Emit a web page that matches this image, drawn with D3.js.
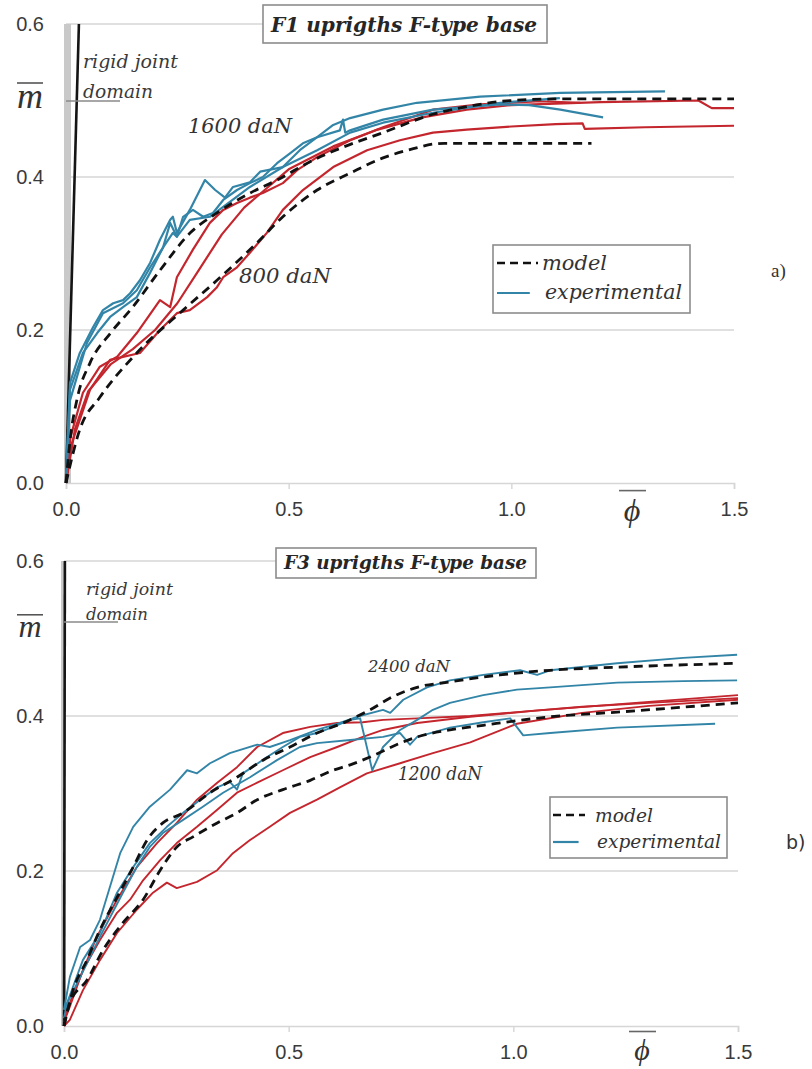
<!DOCTYPE html>
<html><head><meta charset="utf-8">
<script src="https://cdn.jsdelivr.net/npm/d3@7"></script>
<style>body{margin:0;background:#fff}svg{display:block}</style>
</head><body>
<svg id="c" width="812" height="1069"></svg>
<script>
// ---------- data ----------
const xTicks = [0.0, 0.5, 1.0, 1.5];
const yTickLabels = [0.0, 0.2, 0.4, 0.6];
const gridValues = [0.2, 0.4];

// Panel a) F1 uprights
const f1Model1600 = [[0,0],[0.01,0.06],[0.025,0.11],[0.054,0.157],[0.1,0.196],[0.15,0.23],[0.211,0.278],[0.279,0.327],[0.339,0.353],[0.413,0.379],[0.474,0.396],[0.548,0.42],[0.622,0.439],[0.712,0.458],[0.824,0.482],[0.9,0.492],[1.0,0.5],[1.1,0.502],[1.5,0.502]];
const f1Model800 = [[0,0],[0.031,0.07],[0.076,0.112],[0.159,0.17],[0.263,0.226],[0.339,0.265],[0.429,0.314],[0.487,0.348],[0.564,0.383],[0.638,0.405],[0.712,0.425],[0.78,0.437],[0.824,0.443],[0.85,0.444],[1.18,0.444]];
const f1Exp1600a = [[0,0],[0.004,0.056],[0.009,0.131],[0.031,0.17],[0.061,0.204],[0.083,0.226],[0.106,0.235],[0.128,0.239],[0.144,0.248],[0.166,0.265],[0.189,0.288],[0.211,0.318],[0.234,0.344],[0.24,0.348],[0.249,0.327],[0.278,0.357],[0.312,0.396],[0.335,0.383],[0.357,0.373],[0.375,0.387],[0.413,0.393],[0.436,0.407],[0.487,0.413],[0.525,0.435],[0.564,0.452],[0.6,0.468],[0.638,0.477],[0.712,0.488],[0.788,0.497],[0.93,0.505],[1.11,0.51],[1.345,0.512]];
const f1Exp1600b = [[0,0],[0.004,0.06],[0.009,0.122],[0.038,0.17],[0.07,0.196],[0.099,0.217],[0.128,0.23],[0.159,0.243],[0.189,0.275],[0.218,0.308],[0.24,0.327],[0.249,0.322],[0.263,0.348],[0.285,0.357],[0.308,0.348],[0.33,0.353],[0.353,0.37],[0.384,0.383],[0.413,0.392],[0.442,0.4],[0.474,0.418],[0.503,0.431],[0.532,0.444],[0.564,0.452],[0.615,0.461],[0.622,0.475],[0.627,0.458],[0.638,0.461],[0.712,0.475],[0.824,0.488],[0.975,0.495],[1.04,0.494],[1.11,0.488],[1.206,0.478]];
const f1Exp1600c = [[0,0],[0.004,0.05],[0.009,0.108],[0.047,0.183],[0.083,0.222],[0.128,0.235],[0.159,0.252],[0.189,0.282],[0.218,0.308],[0.234,0.34],[0.249,0.322],[0.278,0.344],[0.323,0.348],[0.353,0.361],[0.413,0.387],[0.487,0.413],[0.564,0.435],[0.638,0.458],[0.712,0.471],[0.824,0.484],[0.975,0.497],[1.109,0.503]];
const f1Exp800a = [[0,0],[0.01,0.06],[0.038,0.118],[0.076,0.152],[0.115,0.165],[0.159,0.196],[0.211,0.239],[0.234,0.23],[0.249,0.269],[0.285,0.305],[0.323,0.34],[0.353,0.357],[0.384,0.366],[0.413,0.373],[0.442,0.379],[0.487,0.392],[0.519,0.409],[0.564,0.426],[0.638,0.448],[0.712,0.465],[0.824,0.488],[0.93,0.495],[1.065,0.499],[1.155,0.497]];
const f1Exp800b = [[0,0],[0.012,0.05],[0.054,0.122],[0.099,0.161],[0.166,0.17],[0.211,0.2],[0.249,0.222],[0.278,0.226],[0.317,0.243],[0.339,0.256],[0.353,0.269],[0.384,0.282],[0.413,0.301],[0.451,0.327],[0.487,0.357],[0.532,0.383],[0.6,0.413],[0.676,0.435],[0.75,0.448],[0.824,0.458],[0.9,0.462],[1.0,0.466],[1.1,0.469],[1.16,0.47],[1.165,0.463],[1.3,0.465],[1.5,0.467]];
const f1Exp800c = [[0,0],[0.02,0.07],[0.05,0.12],[0.1,0.155],[0.15,0.175],[0.2,0.2],[0.25,0.235],[0.3,0.28],[0.35,0.325],[0.4,0.36],[0.45,0.385],[0.5,0.41],[0.6,0.44],[0.7,0.462],[0.8,0.478],[0.9,0.488],[1.0,0.494],[1.2,0.498],[1.42,0.5],[1.45,0.49],[1.5,0.49]];

// Panel b) F3 uprights
const f3Model2400 = [[0,0],[0.02,0.046],[0.051,0.085],[0.08,0.124],[0.118,0.166],[0.154,0.205],[0.185,0.24],[0.22,0.262],[0.265,0.275],[0.325,0.301],[0.385,0.321],[0.443,0.343],[0.503,0.36],[0.563,0.378],[0.621,0.391],[0.681,0.408],[0.732,0.425],[0.786,0.437],[0.859,0.444],[0.97,0.453],[1.082,0.459],[1.231,0.463],[1.5,0.468]];
const f3Model1200 = [[0,0],[0.013,0.03],[0.051,0.059],[0.087,0.098],[0.131,0.133],[0.176,0.163],[0.214,0.201],[0.251,0.231],[0.287,0.244],[0.341,0.262],[0.385,0.275],[0.43,0.292],[0.487,0.305],[0.548,0.317],[0.599,0.33],[0.637,0.337],[0.681,0.347],[0.748,0.365],[0.786,0.373],[0.859,0.382],[0.933,0.388],[1.082,0.399],[1.231,0.405],[1.5,0.417]];
const f3Exp2400a = [[0,0.021],[0.013,0.063],[0.036,0.102],[0.058,0.111],[0.08,0.137],[0.102,0.179],[0.125,0.223],[0.154,0.257],[0.191,0.283],[0.236,0.305],[0.274,0.33],[0.296,0.326],[0.325,0.339],[0.369,0.352],[0.43,0.363],[0.458,0.36],[0.503,0.369],[0.563,0.382],[0.614,0.391],[0.652,0.399],[0.71,0.408],[0.726,0.404],[0.755,0.421],[0.808,0.437],[0.859,0.446],[0.933,0.453],[1.015,0.459],[1.053,0.453],[1.082,0.459],[1.231,0.468],[1.378,0.475],[1.498,0.479]];
const f3Exp2400b = [[0,0.01],[0.007,0.03],[0.042,0.085],[0.08,0.12],[0.118,0.172],[0.154,0.205],[0.191,0.236],[0.229,0.257],[0.265,0.275],[0.303,0.292],[0.341,0.308],[0.369,0.315],[0.385,0.305],[0.398,0.326],[0.452,0.347],[0.487,0.36],[0.525,0.373],[0.563,0.378],[0.599,0.386],[0.637,0.395],[0.659,0.397],[0.686,0.33],[0.71,0.36],[0.748,0.382],[0.786,0.395],[0.821,0.408],[0.859,0.417],[0.933,0.427],[1.008,0.434],[1.082,0.437],[1.231,0.443],[1.378,0.445],[1.498,0.446]];
const f3Exp2400c = [[0,0.021],[0.036,0.063],[0.08,0.115],[0.131,0.172],[0.162,0.205],[0.191,0.231],[0.22,0.249],[0.265,0.266],[0.309,0.283],[0.354,0.301],[0.414,0.321],[0.474,0.343],[0.525,0.36],[0.563,0.365],[0.637,0.369],[0.71,0.373],[0.748,0.378],[0.77,0.363],[0.786,0.373],[0.859,0.385],[0.933,0.392],[0.993,0.397],[1.022,0.375],[1.082,0.378],[1.231,0.385],[1.449,0.39]];
const f3Exp1200a = [[0,0.01],[0.007,0.021],[0.036,0.063],[0.073,0.115],[0.118,0.163],[0.162,0.205],[0.207,0.236],[0.251,0.262],[0.296,0.292],[0.341,0.314],[0.385,0.334],[0.43,0.36],[0.487,0.378],[0.548,0.386],[0.608,0.391],[0.665,0.392],[0.71,0.395],[0.786,0.397],[0.904,0.4],[1.008,0.405],[1.153,0.412],[1.302,0.417],[1.5,0.423]];
const f3Exp1200b = [[0,0.005],[0.013,0.025],[0.042,0.072],[0.08,0.111],[0.118,0.146],[0.147,0.163],[0.176,0.188],[0.214,0.214],[0.251,0.236],[0.296,0.257],[0.341,0.279],[0.385,0.301],[0.43,0.314],[0.487,0.33],[0.548,0.347],[0.608,0.36],[0.665,0.373],[0.71,0.382],[0.786,0.391],[0.904,0.399],[1.05,0.407],[1.25,0.416],[1.5,0.427]];
const f3Exp1200c = [[0,0],[0.013,0.008],[0.042,0.046],[0.08,0.085],[0.118,0.12],[0.162,0.15],[0.198,0.172],[0.229,0.185],[0.251,0.178],[0.296,0.186],[0.341,0.201],[0.376,0.223],[0.414,0.24],[0.458,0.257],[0.503,0.275],[0.563,0.292],[0.614,0.308],[0.674,0.326],[0.748,0.339],[0.821,0.352],[0.904,0.366],[1.008,0.39],[1.153,0.404],[1.302,0.413],[1.5,0.421]];

// ---------- drawing ----------
const svg = d3.select("#c");
const BLUE = "#3385a8", RED = "#c4262e", GRID = "#d6d6d6";
const SERIF = "'DejaVu Serif',serif";
const MSERIF = "'Liberation Serif','Times New Roman',serif";
const SANS = "'Liberation Sans',Arial,sans-serif";

const panels = [
  { left:66, right:734, bottom:483, top:24, rigidTop:0.029,
    title:"F1 uprigths F-type base", tBox:[263,5,284,38], tBase:32, tSize:20, tLen:266,
    models:[f1Model1600, f1Model800], blues:[f1Exp1600a,f1Exp1600b,f1Exp1600c], reds:[f1Exp800a,f1Exp800b,f1Exp800c],
    labels:[{t:"1600 daN",x:188,y:133,s:21,l:104},{t:"800 daN",x:239,y:283,s:21,l:92}],
    legend:{x:493,y:245,w:197,h:68,l1:270,l2:299,dx0:497,dx1:538,tx1:542,tx2:545,len1:65,len2:137,s:21},
    tag:{t:"a)",x:771,y:277,f:MSERIF}, rigid:{x:83,y1:68,y2:98,s:18,l1:95,l2:70,mark:101}, band:[64,71], m:{y:108,s:36},
    phi:{x:632,y:521,s:32}, lw:2.2 },
  { left:64, right:738, bottom:1026, top:561, rigidTop:0.002,
    title:"F3 uprigths F-type base", tBox:[276,548,260,30], tBase:569, tSize:18, tLen:243,
    models:[f3Model2400, f3Model1200], blues:[f3Exp2400a,f3Exp2400b,f3Exp2400c], reds:[f3Exp1200a,f3Exp1200b,f3Exp1200c],
    labels:[{t:"2400 daN",x:368,y:672,s:17,l:82},{t:"1200 daN",x:398,y:780,s:18,l:84}],
    legend:{x:550,y:797,w:177,h:61,l1:822,l2:848,dx0:553,dx1:585,tx1:595,tx2:597,len1:58,len2:124,s:19},
    tag:{t:"b)",x:786,y:849,f:"'DejaVu Sans',sans-serif"}, rigid:{x:86,y1:595,y2:620,s:16,l1:87,l2:62,mark:622}, band:[61,66], m:{y:637,s:32},
    phi:{x:642,y:1060,s:30}, lw:1.9 }
];

panels.forEach(p => {
  const x = d3.scaleLinear().domain([0,1.5]).range([p.left,p.right]);
  const y = d3.scaleLinear().domain([0,0.6]).range([p.bottom,p.top]);
  const g = svg.append("g");

  // gridlines
  g.selectAll(".grid").data(gridValues).join("line")
    .attr("x1",x(0)).attr("x2",x(1.5)).attr("y1",d=>y(d)).attr("y2",d=>y(d))
    .attr("stroke",GRID).attr("stroke-width",1.6);
  g.append("line").attr("x1",x(0)).attr("x2",p.tBox[0]).attr("y1",y(0.6)).attr("y2",y(0.6))
    .attr("stroke",GRID).attr("stroke-width",1.6);

  // x axis
  const ax = g.append("g").attr("transform",`translate(0,${y(0)})`)
    .call(d3.axisBottom(x).tickValues(xTicks).tickFormat(d3.format(".1f")).tickSize(6).tickPadding(13));
  ax.select(".domain").attr("stroke",GRID).attr("stroke-width",1.6);
  ax.selectAll(".tick line").attr("stroke",GRID).attr("stroke-width",1.4);
  ax.selectAll(".tick text").attr("fill","#3a3a3a").style("font-family",SANS).style("font-size","20px");

  // y labels
  g.selectAll(".ylab").data(yTickLabels).join("text")
    .attr("x",44).attr("y",d=>y(d)).attr("dy","0.36em").attr("text-anchor","end")
    .attr("fill","#3a3a3a").style("font-family",SANS).style("font-size","20px")
    .text(d=>d3.format(".1f")(d));

  // m-bar label
  g.append("text").attr("x",30).attr("y",p.m.y).attr("text-anchor","middle")
    .style("font-family",MSERIF).style("font-style","italic").style("font-size",p.m.s+"px").attr("fill","#333").text("m");
  g.append("line").attr("x1",17).attr("x2",43).attr("y1",p.m.y-25*p.m.s/36).attr("y2",p.m.y-25*p.m.s/36)
    .attr("stroke","#555").attr("stroke-width",1.6);

  // phi-bar label
  g.append("text").attr("x",p.phi.x).attr("y",p.phi.y).attr("text-anchor","middle")
    .style("font-family",MSERIF).style("font-style","italic").style("font-size",p.phi.s+"px").attr("fill","#333").text("\u03D5");
  g.append("line").attr("x1",p.phi.x-13).attr("x2",p.phi.x+14).attr("y1",p.phi.y-p.phi.s*0.95).attr("y2",p.phi.y-p.phi.s*0.95)
    .attr("stroke","#666").attr("stroke-width",1.6);

  // rigid joint domain band + line
  g.append("rect").attr("x",p.band[0]).attr("y",y(0.6)).attr("width",p.band[1]-p.band[0]).attr("height",y(0)-y(0.6))
    .attr("fill","#c9c9c9");
  g.append("line").attr("x1",x(0)).attr("y1",y(0)).attr("x2",x(p.rigidTop)).attr("y2",y(0.6))
    .attr("stroke","#151515").attr("stroke-width",2.6);
  g.append("line").attr("x1",x(0)).attr("x2",x(0)+54).attr("y1",p.rigid.mark).attr("y2",p.rigid.mark)
    .attr("stroke","#8a8a8a").attr("stroke-width",1.4);
  [["rigid joint",p.rigid.y1,p.rigid.l1],["domain",p.rigid.y2,p.rigid.l2]].forEach(r =>
    g.append("text").attr("x",p.rigid.x).attr("y",r[1]).attr("textLength",r[2]).attr("lengthAdjust","spacingAndGlyphs")
      .style("font-family",SERIF).style("font-style","italic").style("font-size",p.rigid.s+"px").attr("fill","#3a3a3a").text(r[0]));

  // curves
  const lin = d3.line().x(d=>x(d[0])).y(d=>y(d[1]));
  const smooth = d3.line().x(d=>x(d[0])).y(d=>y(d[1])).curve(d3.curveMonotoneX);
  g.selectAll(".red").data(p.reds).join("path").attr("d",lin)
    .attr("fill","none").attr("stroke",RED).attr("stroke-width",p.lw).attr("stroke-linejoin","round");
  g.selectAll(".blue").data(p.blues).join("path").attr("d",lin)
    .attr("fill","none").attr("stroke",BLUE).attr("stroke-width",p.lw).attr("stroke-linejoin","round");
  g.selectAll(".model").data(p.models).join("path").attr("d",smooth)
    .attr("fill","none").attr("stroke","#111").attr("stroke-width",2.8).attr("stroke-dasharray","9,6");

  // load labels
  p.labels.forEach(l => g.append("text").attr("x",l.x).attr("y",l.y).attr("textLength",l.l).attr("lengthAdjust","spacingAndGlyphs")
    .style("font-family",SERIF).style("font-style","italic").style("font-size",l.s+"px").attr("fill","#333").text(l.t));

  // title box
  g.append("rect").attr("x",p.tBox[0]).attr("y",p.tBox[1]).attr("width",p.tBox[2]).attr("height",p.tBox[3])
    .attr("fill","#fff").attr("stroke","#8c8c8c").attr("stroke-width",1.6);
  g.append("text").attr("x",p.tBox[0]+8).attr("y",p.tBase).attr("textLength",p.tLen).attr("lengthAdjust","spacingAndGlyphs")
    .style("font-family",SERIF).style("font-style","italic").style("font-weight","bold").style("font-size",p.tSize+"px")
    .attr("fill","#262626").text(p.title);

  // legend
  const L = p.legend;
  g.append("rect").attr("x",L.x).attr("y",L.y).attr("width",L.w).attr("height",L.h)
    .attr("fill","#fff").attr("stroke","#8c8c8c").attr("stroke-width",1.6);
  g.append("line").attr("x1",L.dx0).attr("x2",L.dx1).attr("y1",L.l1-7).attr("y2",L.l1-7)
    .attr("stroke","#111").attr("stroke-width",2.6).attr("stroke-dasharray","8,5");
  g.append("line").attr("x1",L.dx0).attr("x2",L.dx0+(L.dx1-L.dx0)*0.8).attr("y1",L.l2-6).attr("y2",L.l2-6)
    .attr("stroke",BLUE).attr("stroke-width",2.2);
  g.append("text").attr("x",L.tx1).attr("y",L.l1).attr("textLength",L.len1).attr("lengthAdjust","spacingAndGlyphs")
    .style("font-family",SERIF).style("font-style","italic").style("font-size",L.s+"px").attr("fill","#333").text("model");
  g.append("text").attr("x",L.tx2).attr("y",L.l2).attr("textLength",L.len2).attr("lengthAdjust","spacingAndGlyphs")
    .style("font-family",SERIF).style("font-style","italic").style("font-size",L.s+"px").attr("fill","#333").text("experimental");

  // panel tag
  g.append("text").attr("x",p.tag.x).attr("y",p.tag.y)
    .style("font-family",p.tag.f).style("font-size","19px").attr("fill","#333").text(p.tag.t);
});
</script>
</body></html>
